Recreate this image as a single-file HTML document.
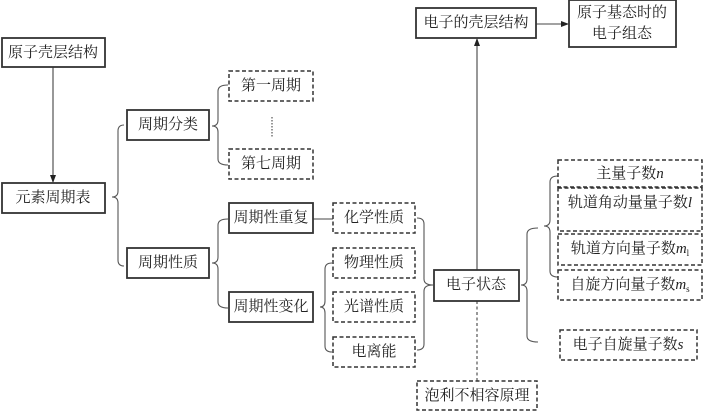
<!DOCTYPE html>
<html><head><meta charset="utf-8"><style>
html,body{margin:0;padding:0;background:#fff;}
svg{display:block;}
text{font-family:"Liberation Serif","Noto Serif CJK SC",serif;font-size:15px;fill:#222;text-anchor:middle;dominant-baseline:central;}
.s{fill:#fff;stroke:#333;stroke-width:1.8;}
.d{fill:#fff;stroke:#333;stroke-width:1.5;stroke-dasharray:4,2.5;}
.b{fill:none;stroke:#555;stroke-width:1.1;}
.l{stroke:#444;stroke-width:1.1;fill:none;}
</style></head><body>
<svg width="703" height="412" viewBox="0 0 703 412" xmlns="http://www.w3.org/2000/svg">
<defs><marker id="a" markerWidth="8" markerHeight="8" refX="7" refY="4" orient="auto" markerUnits="userSpaceOnUse"><path d="M0,1 L8,4 L0,7z" fill="#222"/></marker></defs>
<!-- connectors -->
<line class="l" x1="53" y1="67" x2="53" y2="182" marker-end="url(#a)"/>
<line class="l" x1="313" y1="219" x2="333" y2="219"/>
<line class="l" x1="477" y1="270" x2="477" y2="39" marker-end="url(#a)"/>
<line class="l" x1="536" y1="24" x2="568" y2="24" marker-end="url(#a)"/>
<line class="l" x1="477" y1="301" x2="477" y2="381" stroke-dasharray="3,2.5" stroke-width="1.6"/>
<line class="l" x1="272" y1="117" x2="272" y2="137" stroke-dasharray="1.5,1.5" stroke-width="1.5"/>
<!-- braces (tip left) -->
<path class="b" d="M124,125 Q118,125 118,131 L118,191 Q118,197 112,197 Q118,197 118,203 L118,260 Q118,266 124,266"/>
<path class="b" d="M228,85 Q218,85 218,91 L218,120 Q218,126 212,126 Q218,126 218,132 L218,159 Q218,165 228,165"/>
<path class="b" d="M228,219 Q218,219 218,225 L218,257 Q218,263 212,263 Q218,263 218,269 L218,302 Q218,308 228,308"/>
<path class="b" d="M332,263 Q325,263 325,269 L325,301 Q325,307 320,307 Q325,307 325,313 L325,346 Q325,352 332,352"/>
<path class="b" d="M538,228 Q527,228 527,234 L527,279 Q527,285 521,285 Q527,285 527,291 L527,336 Q527,342 538,342"/>
<path class="b" d="M558,176 Q550,176 550,182 L550,220 Q550,226 544,226 Q550,226 550,232 L550,271 Q550,277 558,277"/>
<!-- brace tip right -->
<path class="b" d="M417,218 Q424,218 424,224 L424,279 Q424,285 433,285 Q424,285 424,291 L424,344 Q424,350 417,350"/>
<!-- boxes -->
<rect class="s" x="2" y="38" width="103" height="29"/><text x="53" y="53">原子壳层结构</text>
<rect class="s" x="2" y="183" width="103" height="30"/><text x="53" y="198">元素周期表</text>
<rect class="s" x="127" y="110" width="82" height="30"/><text x="168" y="125">周期分类</text>
<rect class="s" x="127" y="248" width="82" height="30"/><text x="168" y="263">周期性质</text>
<rect class="d" x="229" y="71" width="84" height="30"/><text x="271" y="86">第一周期</text>
<rect class="d" x="229" y="149" width="84" height="30"/><text x="271" y="164">第七周期</text>
<rect class="s" x="229" y="203" width="84" height="30"/><text x="271" y="218">周期性重复</text>
<rect class="s" x="229" y="292" width="84" height="30"/><text x="271" y="307">周期性变化</text>
<rect class="d" x="333" y="203" width="82" height="30"/><text x="374" y="218">化学性质</text>
<rect class="d" x="333" y="248" width="82" height="30"/><text x="374" y="263">物理性质</text>
<rect class="d" x="333" y="292" width="82" height="30"/><text x="374" y="307">光谱性质</text>
<rect class="d" x="333" y="337" width="82" height="30"/><text x="374" y="352">电离能</text>
<rect class="s" x="434" y="270" width="85" height="31"/><text x="476" y="285">电子状态</text>
<rect class="s" x="416" y="8" width="120" height="30"/><text x="476" y="23">电子的壳层结构</text>
<rect class="s" x="569" y="0" width="107" height="47"/><text x="622" y="13">原子基态时的</text><text x="622" y="34">电子组态</text>
<rect class="d" x="417" y="381" width="120" height="29"/><text x="477" y="396">泡利不相容原理</text>
<rect class="d" x="558" y="160" width="144" height="27"/><text x="630" y="174">主量子数<tspan font-style="italic">n</tspan></text>
<rect class="d" x="558" y="188" width="144" height="43"/><text x="630" y="203">轨道角动量量子数<tspan font-style="italic">l</tspan></text>
<rect class="d" x="558" y="234" width="144" height="31"/><text x="630" y="249">轨道方向量子数<tspan font-style="italic">m</tspan><tspan font-size="9" dy="4">l</tspan></text>
<rect class="d" x="558" y="270" width="144" height="30"/><text x="630" y="285">自旋方向量子数<tspan font-style="italic">m</tspan><tspan font-size="9" dy="4">s</tspan></text>
<rect class="d" x="560" y="330" width="137" height="30"/><text x="628" y="345">电子自旋量子数<tspan font-style="italic">s</tspan></text>
</svg>
</body></html>
